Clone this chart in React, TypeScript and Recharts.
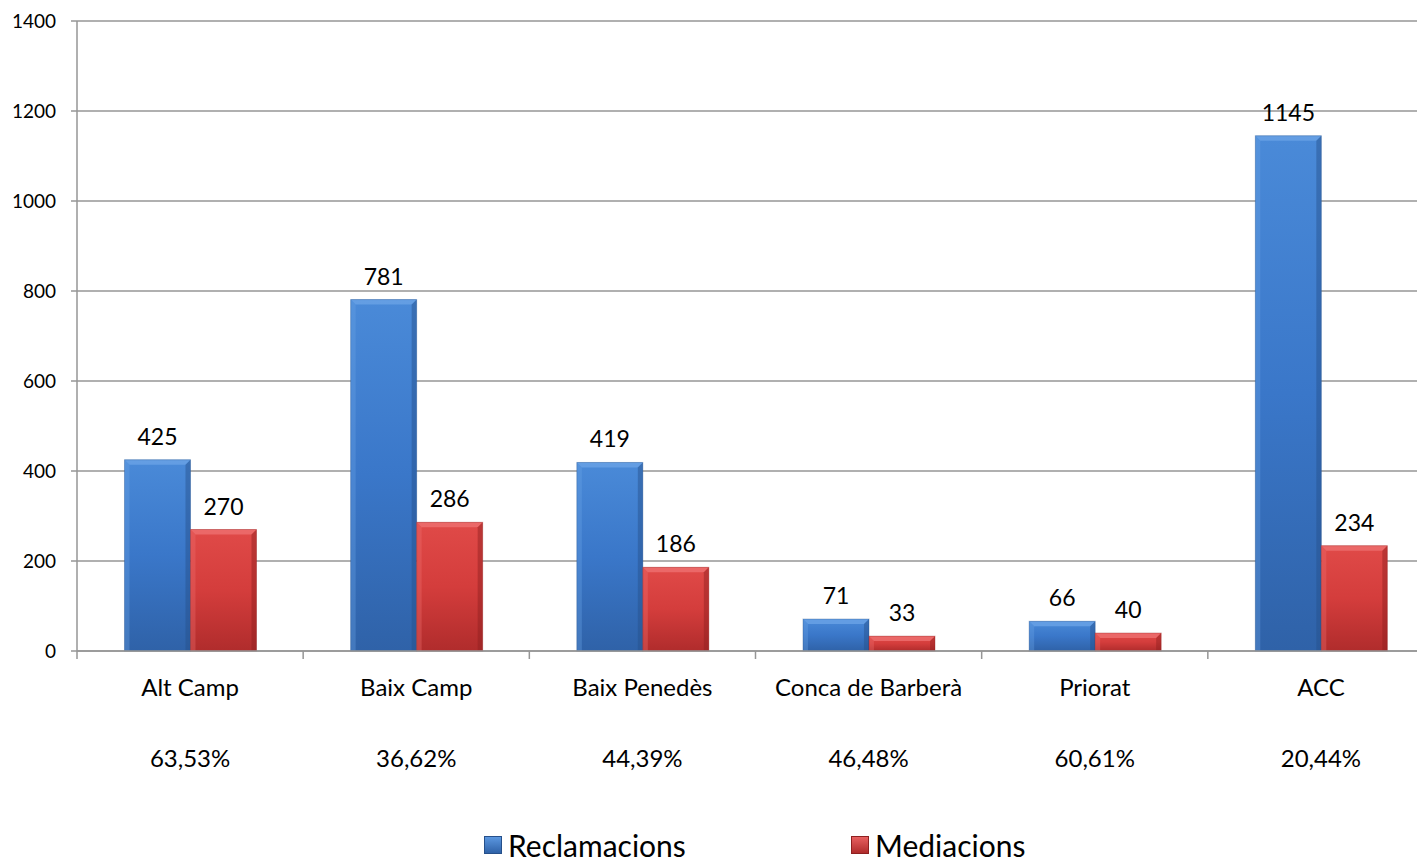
import React from "react";
import { BarChart, Bar, XAxis, YAxis, CartesianGrid, LabelList, Legend } from "recharts";

const categories = ["Alt Camp", "Baix Camp", "Baix Penedès", "Conca de Barberà", "Priorat", "ACC"];
const reclamacions = [425, 781, 419, 71, 66, 1145];
const mediacions = [270, 286, 186, 33, 40, 234];
const percentages = ["63,53%", "36,62%", "44,39%", "46,48%", "60,61%", "20,44%"];
const yTicks = [0, 200, 400, 600, 800, 1000, 1200, 1400];
const seriesNames = ["Reclamacions", "Mediacions"];

const data = categories.map((name, i) => ({
  name,
  reclamacions: reclamacions[i],
  mediacions: mediacions[i],
  pct: percentages[i],
}));

const FONT = "Lato, 'Open Sans', sans-serif";
const AXIS_GRAY = "#969696";

const palettes: Record<string, { top: string; mid: string; bot: string; light: string; dark: string }> = {
  blue: { top: "#4a8ad8", mid: "#3a77c9", bot: "#2f62a8", light: "#6aa2e6", dark: "#26508a" },
  red: { top: "#e04a48", mid: "#d43d3c", bot: "#b02c2c", light: "#ee7070", dark: "#8e2020" },
};

const makeShape = (key: string) => (props: any) => {
  const { x, y, width, height } = props;
  if (!height || height <= 0) return <g />;
  const e = Math.min(5, width / 6, height / 3);
  const p = palettes[key];
  return (
    <g>
      <rect x={x} y={y} width={width} height={height} fill={`url(#grad-${key})`} />
      <polygon points={`${x},${y} ${x + width},${y} ${x + width - e},${y + e} ${x + e},${y + e}`} fill={p.light} opacity={0.8} />
      <polygon points={`${x},${y} ${x + e},${y + e} ${x + e},${y + height} ${x},${y + height}`} fill={p.light} opacity={0.35} />
      <polygon points={`${x + width},${y} ${x + width},${y + height} ${x + width - e},${y + height} ${x + width - e},${y + e}`} fill={p.dark} opacity={0.45} />
      <rect x={x} y={y} width={width} height={height} fill="none" stroke={p.dark} strokeOpacity={0.35} strokeWidth={1} />
    </g>
  );
};

const CatTick = (props: any) => {
  const { x, y, payload, index, width } = props;
  const half = payload && typeof payload.offset === "number" && payload.offset > 0 ? payload.offset : width / categories.length / 2;
  const pct = percentages[categories.indexOf(payload.value)];
  return (
    <g>
      {index === 0 && <line x1={x - half} x2={x - half} y1={y} y2={y + 8} stroke={AXIS_GRAY} strokeWidth={1.5} />}
      <line x1={x + half} x2={x + half} y1={y} y2={y + 8} stroke={AXIS_GRAY} strokeWidth={1.5} />
      <text x={x} y={y + 35} textAnchor="middle" dominantBaseline="central" fontSize={24} fontFamily={FONT} fill="#000">
        {payload.value}
      </text>
      <text x={x} y={y + 106} textAnchor="middle" dominantBaseline="central" fontSize={24} fontFamily={FONT} fill="#000">
        {pct}
      </text>
    </g>
  );
};

const LegendContent = () => (
  <div style={{ height: 73, width: 1417, position: "relative", fontFamily: FONT }}>
    {seriesNames.map((n, i) => (
      <div
        key={n}
        style={{
          position: "absolute",
          left: i === 0 ? 484 : 851,
          top: 38,
          display: "flex",
          alignItems: "center",
          fontSize: 30,
          color: "#000",
          lineHeight: "32px",
        }}
      >
        <span
          style={{
            display: "inline-block",
            width: 18,
            height: 18,
            marginRight: 6,
            background: i === 0 ? "linear-gradient(#5b97e0, #2f62a8)" : "linear-gradient(#e86060, #b02c2c)",
            border: `1px solid ${i === 0 ? "#26508a" : "#8e2020"}`,
            boxSizing: "border-box",
          }}
        />
        <span>{n}</span>
      </div>
    ))}
  </div>
);

export default function App() {
  return (
    <div style={{ position: "absolute", left: 0, top: 0, width: 1417, height: 864, background: "#fff", overflow: "hidden" }}>
      <BarChart
        width={1435}
        height={864}
        data={data}
        margin={{ top: 21, right: 1, left: 0, bottom: 0 }}
        barCategoryGap="21%"
        barGap={0}
      >
        <defs>
          {Object.keys(palettes).map((k) => (
            <linearGradient key={k} id={`grad-${k}`} x1="0" y1="0" x2="0" y2="1">
              <stop offset="0%" stopColor={palettes[k].top} />
              <stop offset="50%" stopColor={palettes[k].mid} />
              <stop offset="100%" stopColor={palettes[k].bot} />
            </linearGradient>
          ))}
        </defs>
        <CartesianGrid vertical={false} stroke={AXIS_GRAY} strokeWidth={1.5} />
        <XAxis
          dataKey="name"
          height={140}
          interval={0}
          tickLine={false}
          tickSize={0}
          tickMargin={0}
          axisLine={{ stroke: AXIS_GRAY, strokeWidth: 1.5 }}
          tick={<CatTick />}
        />
        <YAxis
          width={77}
          domain={[0, 1400]}
          ticks={yTicks}
          interval={0}
          tickSize={6}
          tickMargin={15}
          tickLine={{ stroke: AXIS_GRAY, strokeWidth: 1.5 }}
          axisLine={{ stroke: AXIS_GRAY, strokeWidth: 1.5 }}
          tick={{ fill: "#000", fontSize: 19, fontFamily: FONT }}
        />
        <Legend verticalAlign="bottom" content={<LegendContent />} wrapperStyle={{ left: 0, bottom: 0, width: 1417, height: 73 }} />
        <Bar dataKey="reclamacions" name={seriesNames[0]} isAnimationActive={false} shape={makeShape("blue")}>
          <LabelList dataKey="reclamacions" position="top" offset={15} fill="#000" fontSize={23} fontFamily={FONT} />
        </Bar>
        <Bar dataKey="mediacions" name={seriesNames[1]} isAnimationActive={false} shape={makeShape("red")}>
          <LabelList dataKey="mediacions" position="top" offset={15} fill="#000" fontSize={23} fontFamily={FONT} />
        </Bar>
      </BarChart>
    </div>
  );
}
